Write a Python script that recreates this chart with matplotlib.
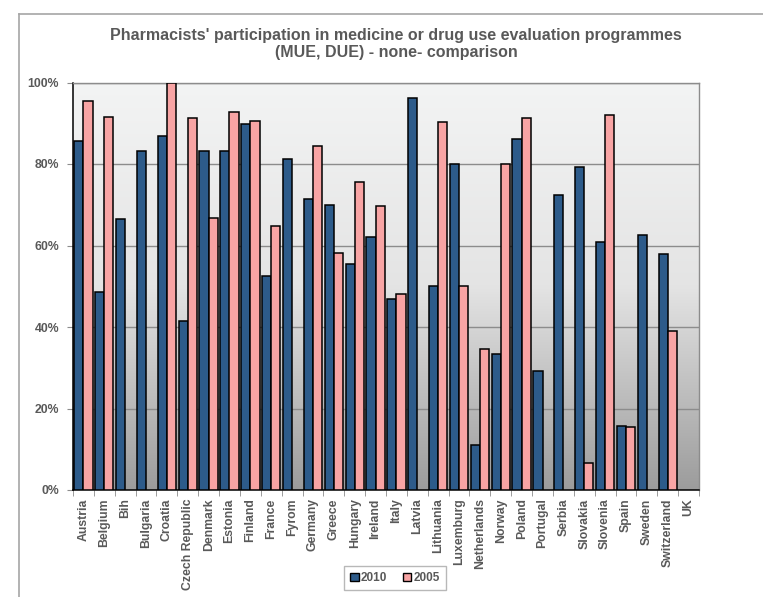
import matplotlib
matplotlib.use("Agg")
import matplotlib.pyplot as plt
from matplotlib.colors import LinearSegmentedColormap
from matplotlib.patches import Patch
from matplotlib.lines import Line2D
import numpy as np

# --- DATA ---
countries = ['Austria', 'Belgium', 'Bih', 'Bulgaria', 'Croatia', 'Czech Republic',
             'Denmark', 'Estonia', 'Finland', 'France', 'Fyrom', 'Germany', 'Greece',
             'Hungary', 'Ireland', 'Italy', 'Latvia', 'Lithuania', 'Luxemburg',
             'Netherlands', 'Norway', 'Poland', 'Portugal', 'Serbia', 'Slovakia',
             'Slovenia', 'Spain', 'Sweden', 'Switzerland', 'UK']
nan = np.nan
values_2010 = [85.7, 48.7, 66.6, 83.2, 86.8, 41.5, 83.2, 83.2, 89.9, 52.4,
               81.2, 71.4, 70.0, 55.4, 62.1, 46.9, 96.3, 50.0, 79.9, 11.1,
               33.4, 86.2, 29.1, 72.4, 79.2, 60.8, 15.8, 62.6, 57.9, nan]
values_2005 = [95.4, 91.6, nan, nan, 100.0, 91.4, 66.7, 92.8, 90.5, 64.7,
               nan, 84.3, 58.2, 75.5, 69.7, 48.1, nan, 90.4, 50.0, 34.6,
               79.9, 91.2, nan, nan, 6.6, 92.0, 15.5, nan, 39.1, nan]
series_labels = ['2010', '2005']
y_ticks = [0, 20, 40, 60, 80, 100]

TITLE = "Pharmacists' participation in medicine or drug use evaluation programmes\n(MUE, DUE) - none- comparison"
BLUE = '#2d5b8a'
PINK = '#f8a4a4'
TEXT = '#595959'
GRID = '#8c8c8c'

plt.rcParams['font.family'] = ['Liberation Sans', 'DejaVu Sans']

W, H = 763, 597
fig = plt.figure(figsize=(W / 100, H / 100), dpi=100)
fig.patch.set_facecolor('white')

# outer chart-area border (top and left edge visible)
fig.add_artist(Line2D([19 / W, 1], [1 - 14 / H, 1 - 14 / H], color='#a6a6a6', lw=1.2,
                      transform=fig.transFigure))
fig.add_artist(Line2D([19 / W, 19 / W], [0, 1 - 14 / H], color='#a6a6a6', lw=1.2,
                      transform=fig.transFigure))

ax = fig.add_axes([73 / W, 1 - 490 / H, (699 - 73) / W, (490 - 82.5) / H])

x = np.arange(len(countries))
n = len(countries)

# gradient background of plot area (light at top, grey at bottom)
cmap = LinearSegmentedColormap.from_list('bg', ['#f3f4f4', '#e4e4e4', '#9c9c9c'])
grad = np.linspace(0, 1, 256).reshape(-1, 1)
ax.imshow(grad, extent=[-0.5, n - 0.5, 0, 100], aspect='auto', cmap=cmap,
          vmin=0, vmax=1, zorder=0, interpolation='bilinear')

w = 0.44
ax.bar(x - w / 2, values_2010, width=w, color=BLUE, edgecolor='black', lw=1.1,
       zorder=3, label=series_labels[0])
ax.bar(x + w / 2, values_2005, width=w, color=PINK, edgecolor='black', lw=1.1,
       zorder=3, label=series_labels[1])

ax.set_xlim(-0.5, n - 0.5)
ax.set_ylim(0, 100)

ax.set_axisbelow(True)
ax.yaxis.grid(True, color=GRID, lw=1)
ax.set_yticks(y_ticks)
ax.set_yticklabels([f'{t}%' for t in y_ticks])
ax.tick_params(axis='y', length=4, color=GRID, labelsize=8.8, labelcolor=TEXT, pad=6)

ax.set_xticks(x)
ax.set_xticklabels(countries, rotation=90)
ax.set_xticks(np.arange(n + 1) - 0.5, minor=True)
ax.tick_params(axis='x', which='major', length=0, labelsize=8.8, labelcolor=TEXT, pad=6)
ax.tick_params(axis='x', which='minor', length=4, color=GRID)
for lbl in ax.get_xticklabels() + ax.get_yticklabels():
    lbl.set_fontweight('bold')

for side in ['left', 'bottom']:
    ax.spines[side].set_color('black')
    ax.spines[side].set_linewidth(1.1)
for side in ['top', 'right']:
    ax.spines[side].set_color(GRID)
    ax.spines[side].set_linewidth(1)

fig.text(396 / W, 1 - 44 / H, TITLE, ha='center', va='center', fontsize=11.5,
         fontweight='bold', color=TEXT, linespacing=1.2, multialignment='center')

handles = [Patch(facecolor=BLUE, edgecolor='black', lw=1),
           Patch(facecolor=PINK, edgecolor='black', lw=1)]
leg = fig.legend(handles, series_labels, loc='center', bbox_to_anchor=(395 / W, 1 - 578 / H),
                 ncol=2, frameon=True, fancybox=False, handlelength=0.7, handleheight=0.7,
                 handletextpad=0.2, columnspacing=1.3, borderpad=0.5,
                 prop={'size': 8.5, 'weight': 'bold'})
leg.get_frame().set_edgecolor('#a6a6a6')
leg.get_frame().set_linewidth(1)
for t in leg.get_texts():
    t.set_color(TEXT)

fig.savefig('out.png', dpi=100)
